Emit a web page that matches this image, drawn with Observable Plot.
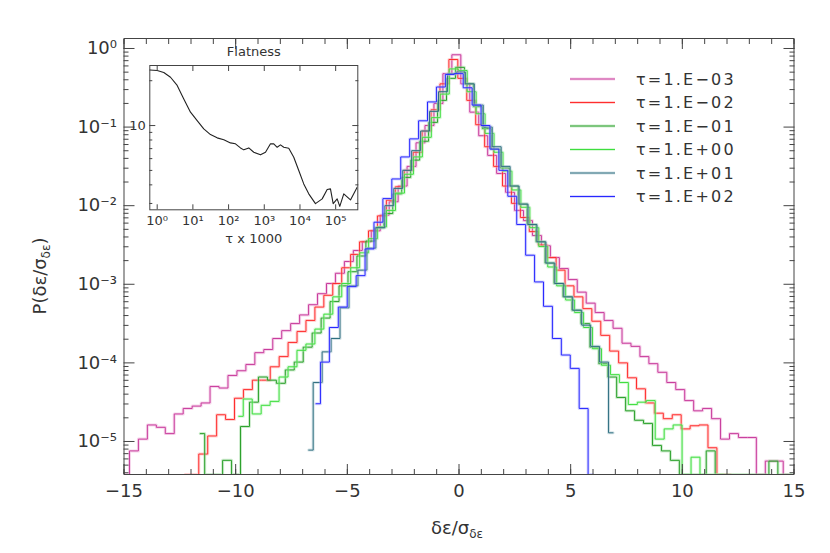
<!DOCTYPE html>
<html><head><meta charset="utf-8">
<script src="https://cdn.jsdelivr.net/npm/d3@7"></script>
<script src="https://cdn.jsdelivr.net/npm/@observablehq/plot@0.6"></script>
<style>
body{margin:0;background:#fff;}
#wrap{position:relative;width:830px;height:553px;font-family:"DejaVu Sans",sans-serif;}
#inset{position:absolute;left:125px;top:40px;}
</style></head><body><div id="wrap"></div><div></div>
<script>
// ---------- data ----------
const tauLabels = ["τ=1.E−03","τ=1.E−02","τ=1.E−01","τ=1.E+00","τ=1.E+01","τ=1.E+02"];
// centre of first plotted bin and bin width, per series (δε/σδε units)
const binStart = [-14.956, -12.252, -11.587, -9.861, -6.73, -6.404];
const binWidth = [0.401, 0.4, 0.401, 0.401, 0.4008, 0.3995];
// log10 P per bin; null = empty bin (drawn on the bottom axis)
const logP_tau1em3 = [null,-5.12,-4.97,-4.79,-4.82,-4.90,-4.65,-4.58,-4.55,-4.51,-4.30,-4.32,-4.16,-4.10,-4.02,-3.87,-3.83,-3.69,-3.59,-3.50,-3.39,
  -3.26,-3.12,-2.99,-2.86,-2.71,-2.57,-2.46,-2.32,-2.12,-1.95,-1.75,-1.50,-1.20,-0.98,-0.70,-0.32,-0.08,-0.45,-0.81,-1.11,
  -1.36,-1.59,-1.83,-2.06,-2.19,-2.38,-2.51,-2.66,-2.80,-2.94,-3.10,-3.24,-3.36,-3.46,-3.56,-3.75,-3.79,-3.92,-4.01,-4.12,
  -4.25,-4.34,-4.48,-4.61,-4.58,-4.71,-4.97,-4.90,-4.95,-4.95,null,-5.25,-5.25,null];
const logP_tau1em2 = [null,null,-5.16,-4.93,-4.66,-4.72,-4.45,-4.34,-4.22,-4.22,-4.05,-3.92,-3.74,-3.60,-3.46,-3.29,-3.14,-2.99,-2.79,-2.62,-2.46,-2.32,
  -2.13,-1.93,-1.76,-1.55,-1.32,-1.05,-0.78,-0.45,-0.14,-0.38,-0.66,-0.97,-1.25,-1.50,-1.75,-1.97,-2.15,-2.33,-2.50,-2.66,
  -2.82,-3.02,-3.16,-3.31,-3.47,-3.65,-3.85,-4.00,-4.19,-4.33,-4.51,-4.64,-4.71,-4.66,-4.84,-4.80,-4.79,-5.08,null,null];
const logP_tau1em1 = [-4.90,null,null,-5.24,null,-4.81,-4.50,-4.18,-4.22,-4.26,-4.09,-3.99,-3.80,-3.62,-3.43,-3.22,-3.02,-2.84,-2.64,-2.45,
  -2.28,-2.10,-1.85,-1.64,-1.42,-1.18,-0.94,-0.66,-0.38,-0.24,-0.45,-0.74,-1.02,-1.28,-1.52,-1.75,-1.98,-2.24,-2.46,-2.73,
  -2.99,-3.16,-3.33,-3.50,-3.80,-4.01,-4.18,-4.44,-4.61,-4.73,-4.77,-5.05,-5.12,-5.24,null,null,null,-5.12,null,null,
  null,null,null,null,-5.25,null,null];
const logP_tau1e0 = [-4.68,-4.46,-4.65,-4.54,-4.49,-4.18,-4.05,-3.84,-3.76,-3.57,-3.38,-3.16,-2.99,-2.79,-2.60,-2.42,-2.27,-2.06,-1.84,-1.60,
  -1.38,-1.13,-0.88,-0.58,-0.26,-0.28,-0.55,-0.83,-1.08,-1.32,-1.56,-1.80,-2.02,-2.28,-2.52,-2.78,-3.02,-3.20,-3.36,-3.55,
  -3.82,-4.03,-4.15,-4.25,-4.53,-4.50,-4.48,-4.97,-4.84,-4.79,null,-5.20,null,null,null];
const logP_tau1e1 = [-5.11,-4.25,-3.86,-3.69,-3.30,-3.02,-2.82,-2.54,-2.28,-2.00,-1.78,-1.55,-1.30,-1.05,-0.80,-0.55,-0.32,-0.30,-0.45,-0.72,
  -1.00,-1.25,-1.50,-1.75,-1.98,-2.24,-2.46,-2.73,-2.99,-3.16,-3.33,-3.52,-3.79,-3.99,-4.89];
const logP_tau1e2 = [-4.52,-3.99,-3.55,-3.29,-3.03,-2.89,-2.55,-2.21,-1.91,-1.66,-1.38,-1.15,-0.92,-0.68,-0.49,-0.33,-0.32,-0.50,-0.72,-0.98,
  -1.28,-1.55,-1.88,-2.24,-2.63,-2.97,-3.28,-3.69,-3.90,-4.07,-4.58,null];
const seriesLogP = [logP_tau1em3, logP_tau1em2, logP_tau1em1, logP_tau1e0, logP_tau1e1, logP_tau1e2];

// inset: flatness vs log10(tau x 1000)
const flatLogTau = [-0.207,0.0,0.185,0.373,0.56,0.745,0.933,1.12,1.305,1.493,1.68,1.866,2.053,2.193,2.333,2.426,2.566,2.706,2.894,3.034,
  3.174,3.266,3.361,3.454,3.546,3.686,3.826,3.966,4.106,4.246,4.434,4.622,4.762,4.854,4.93,5.042,5.115,5.227,5.415,5.602];
const flatness = [23.6,23.4,22.7,21.1,18.6,15.1,12.3,10.8,9.5,8.7,8.27,8.02,7.65,7.54,7.08,6.87,7.08,6.62,6.36,6.62,
  7.54,7.54,7.15,7.42,7.15,7.04,6.13,4.99,4.06,3.48,2.99,3.22,3.72,3.76,2.99,3.22,2.87,3.48,3.17,3.86];

const xMajor = [-15,-10,-5,0,5,10,15];
const yMajorExp = [0,-1,-2,-3,-4,-5];
const insetXExp = [0,1,2,3,4,5];

// ---------- styles ----------
const coreColor = ["#c83c9c","#ff2e2e","#2aa02a","#3ede3e","#2f6f80","#2828ff"];
const haloColor = ["#eaa0d2","#ffa0a0","#96d496","#aaf2aa","#a2c2ca","#aaaaff"];
const yMin = 3.8e-6, yMax = 1.34;
const axisColor = "#444";
const font = "DejaVu Sans, sans-serif";

const supMap = {"0":"⁰","1":"¹","2":"²","3":"³","4":"⁴","5":"⁵","6":"⁶","7":"⁷","8":"⁸","9":"⁹","-":"⁻"};
const sup = n => String(n).split("").map(c => supMap[c]).join("");

const xMinor = d3.range(-15, 16, 1);
const yMajor = yMajorExp.map(e => Math.pow(10, e));
const yMinor = [];
for (let e = -6; e <= 0; e++) for (let m = 2; m <= 9; m++) { const v = m * Math.pow(10, e); if (v >= yMin && v <= yMax) yMinor.push(v); }

const lineMarks = [];
seriesLogP.forEach((vals, s) => {
  const rows = vals.map((v, i) => ({x: binStart[s] + i * binWidth[s], p: v == null ? null : Math.pow(10, v)}));
  const ya = d => d.p == null ? yMin : Math.max(d.p, yMin);
  lineMarks.push(Plot.line(rows, {x: "x", y: ya, curve: "step", stroke: haloColor[s], strokeWidth: 3, strokeOpacity: 0.45, clip: true}));
  lineMarks.push(Plot.line(rows, {x: "x", y: ya, curve: "step", stroke: coreColor[s], strokeWidth: 1, clip: true}));
});

const tickOnly = () => "";
const main = Plot.plot({
  width: 830, height: 553,
  marginLeft: 123.5, marginRight: 36.5, marginTop: 38, marginBottom: 79,
  style: {fontFamily: font, background: "white", overflow: "visible"},
  x: {domain: [-15, 15], label: null},
  y: {type: "log", domain: [yMin, yMax], label: null},
  marks: [
    ...lineMarks,
    Plot.frame({stroke: axisColor}),
    Plot.axisX({anchor: "bottom", ticks: xMinor, tickSize: -5, tickFormat: tickOnly, color: axisColor, label: null}),
    Plot.axisX({anchor: "bottom", ticks: xMajor, tickSize: -10, tickFormat: tickOnly, color: axisColor, label: null}),
    Plot.axisX({anchor: "top", ticks: xMinor, tickSize: -5, tickFormat: tickOnly, color: axisColor, label: null}),
    Plot.axisX({anchor: "top", ticks: xMajor, tickSize: -10, tickFormat: tickOnly, color: axisColor, label: null}),
    Plot.axisX({anchor: "bottom", ticks: xMajor, tickSize: 0, tickPadding: 10, fontSize: 18, color: "#333", label: null,
      tickFormat: d => d < 0 ? "−" + (-d) : String(d)}),
    Plot.axisY({anchor: "left", ticks: yMinor, tickSize: -5, tickFormat: tickOnly, color: axisColor, label: null}),
    Plot.axisY({anchor: "left", ticks: yMajor, tickSize: -11, tickFormat: tickOnly, color: axisColor, label: null}),
    Plot.axisY({anchor: "right", ticks: yMinor, tickSize: -5, tickFormat: tickOnly, color: axisColor, label: null}),
    Plot.axisY({anchor: "right", ticks: yMajor, tickSize: -11, tickFormat: tickOnly, color: axisColor, label: null}),
    Plot.axisY({anchor: "left", ticks: yMajor, tickSize: 0, tickPadding: 7, fontSize: 18, color: "#333", label: null,
      tickFormat: d => "10" + sup(Math.round(Math.log10(d)))})
  ]
});

const wrap = document.getElementById("wrap");
wrap.appendChild(main);
const svg = d3.select(main);

// axis titles with subscripts
const yt = svg.append("text").attr("transform", "translate(46,276) rotate(-90)")
  .attr("text-anchor", "middle").attr("font-size", 18).attr("fill", "#333").attr("font-family", font);
yt.append("tspan").text("P(δε/σ");
yt.append("tspan").attr("font-size", 12).attr("dy", 4).text("δε");
yt.append("tspan").attr("dy", -4).text(")");
const xt = svg.append("text").attr("x", 457).attr("y", 534)
  .attr("text-anchor", "middle").attr("font-size", 18).attr("fill", "#333").attr("font-family", font);
xt.append("tspan").text("δε/σ");
xt.append("tspan").attr("font-size", 12).attr("dy", 4).text("δε");

// legend
const lg = svg.append("g");
tauLabels.forEach((t, i) => {
  const y = 79 + i * 23.5;
  lg.append("line").attr("x1", 570).attr("x2", 615).attr("y1", y).attr("y2", y)
    .attr("stroke", haloColor[i]).attr("stroke-width", 3).attr("stroke-opacity", 0.45);
  lg.append("line").attr("x1", 570).attr("x2", 615).attr("y1", y).attr("y2", y)
    .attr("stroke", coreColor[i]).attr("stroke-width", 1);
  lg.append("text").attr("x", 636).attr("y", y).attr("dy", "0.36em").attr("font-size", 16)
    .attr("text-anchor", "start")
    .attr("letter-spacing", "2.2px").attr("fill", "#333").attr("font-family", font).text(t);
});

// inset
const flatRows = flatLogTau.map((l, i) => ({tau: Math.pow(10, l), f: flatness[i]}));
const insetXTicks = insetXExp.map(e => Math.pow(10, e));
const insetYMinor = [3,4,5,6,7,8,9,20];
const inset = Plot.plot({
  width: 250, height: 210,
  marginLeft: 24.3, marginRight: 17.7, marginTop: 25, marginBottom: 40.7,
  style: {fontFamily: font, background: "transparent", overflow: "visible"},
  x: {type: "log", domain: [Math.pow(10, -0.207), Math.pow(10, 5.62)], label: null},
  y: {type: "log", domain: [2.72, 25.3], label: null},
  marks: [
    Plot.frame({stroke: axisColor}),
    Plot.line(flatRows, {x: "tau", y: "f", stroke: "#222", strokeWidth: 1.1, clip: true}),
    Plot.axisX({anchor: "bottom", ticks: insetXTicks, tickSize: -5, tickFormat: tickOnly, color: axisColor, label: null}),
    Plot.axisX({anchor: "top", ticks: insetXTicks, tickSize: -5, tickFormat: tickOnly, color: axisColor, label: null}),
    Plot.axisX({anchor: "bottom", ticks: insetXTicks, tickSize: 0, tickPadding: 6, fontSize: 13, color: "#333", label: null,
      tickFormat: d => "10" + sup(Math.round(Math.log10(d)))}),
    Plot.axisY({anchor: "left", ticks: insetYMinor, tickSize: -3, tickFormat: tickOnly, color: axisColor, label: null}),
    Plot.axisY({anchor: "left", ticks: [10], tickSize: -6, tickFormat: tickOnly, color: axisColor, label: null}),
    Plot.axisY({anchor: "right", ticks: insetYMinor, tickSize: -3, tickFormat: tickOnly, color: axisColor, label: null}),
    Plot.axisY({anchor: "right", ticks: [10], tickSize: -6, tickFormat: tickOnly, color: axisColor, label: null}),
    Plot.axisY({anchor: "left", ticks: [10], tickSize: 0, tickPadding: 4, fontSize: 13, color: "#333", label: null}),
    Plot.text(["Flatness"], {frameAnchor: "top", lineAnchor: "middle", dy: -14, fontSize: 13, fill: "#333"}),
    Plot.text(["τ x 1000"], {frameAnchor: "bottom", lineAnchor: "middle", dy: 29, fontSize: 13, fill: "#333"})
  ]
});
inset.id = "inset";
wrap.appendChild(inset);
</script></body></html>
